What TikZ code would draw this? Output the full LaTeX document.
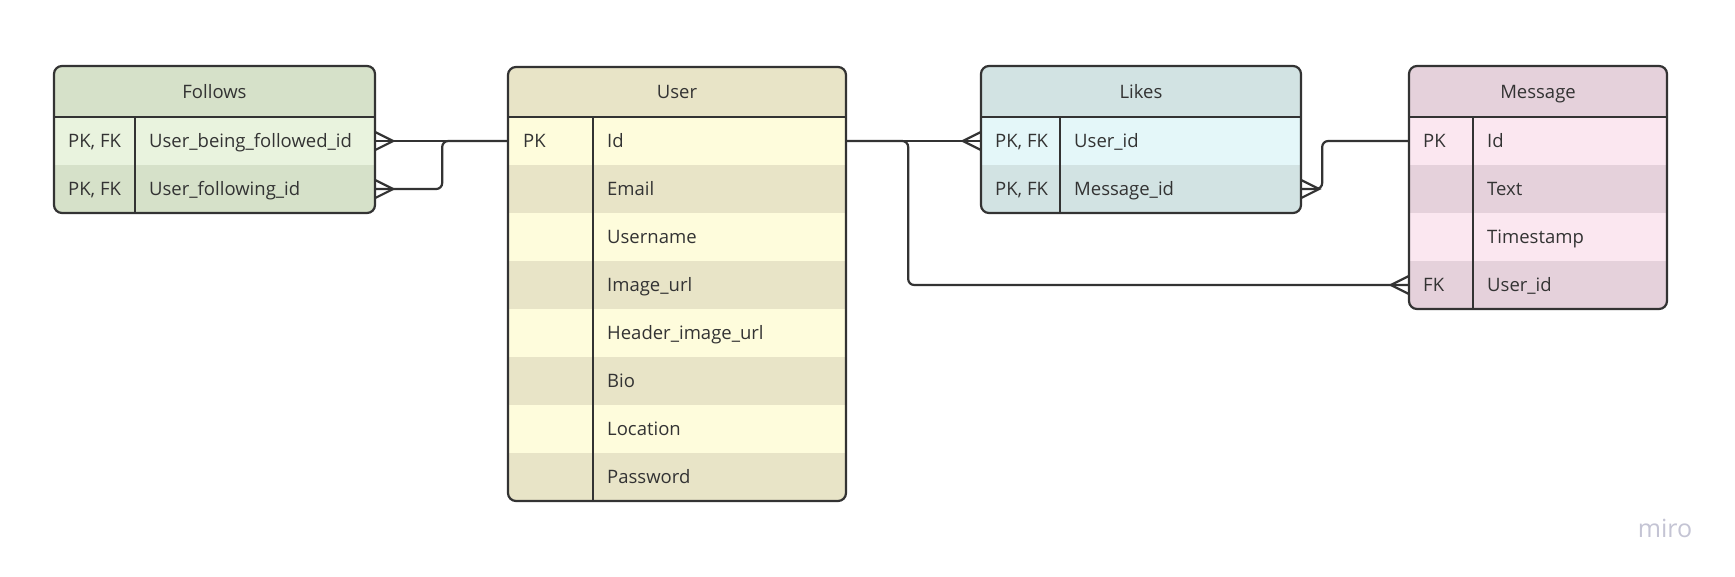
\documentclass[tikz,border=0pt]{standalone}
\usepackage{fontspec}
\setmainfont{Open Sans}
\usetikzlibrary{positioning}

\definecolor{ink}{HTML}{333333}
\definecolor{folDark}{HTML}{D6E1C9}
\definecolor{folLight}{HTML}{E9F3DE}
\definecolor{usrDark}{HTML}{E8E4C7}
\definecolor{usrLight}{HTML}{FEFCDC}
\definecolor{likDark}{HTML}{D2E3E3}
\definecolor{likLight}{HTML}{E4F7F9}
\definecolor{msgDark}{HTML}{E5D1DB}
\definecolor{msgLight}{HTML}{FBE7F0}
\definecolor{miroGrey}{HTML}{C4C4D4}

\tikzset{
  cell/.style={inner sep=0pt, minimum height=48, draw=none},
  txt/.style={inner sep=0pt, anchor=west, text=ink, text height=13pt, text depth=0pt,
    font=\fontsize{18.5}{22}\selectfont},
  title/.style={inner sep=0pt, text=ink, text height=13pt, text depth=0pt,
    font=\fontsize{18.5}{22}\selectfont},
  frame/.style={draw=ink, line width=2.2pt, rounded corners=8},
  rule/.style={draw=ink, line width=2pt},
  link/.style={draw=ink, line width=2.2pt, rounded corners=6},
  crow/.pic={\draw[ink, line width=2.2pt] (0,-9) -- (18,0) -- (0,9);}
}

\begin{document}
\begin{tikzpicture}[x=1pt,y=-1pt]
\fill[white] (0,0) rectangle (1735,576);
\useasboundingbox (0,0) rectangle (1735,576);

% Follows
\begin{scope}
  \clip[rounded corners=8] (54,66) rectangle (375,213);
  \node[cell, fill=folDark, minimum width=321, minimum height=51] (folH) at (214.5,91.5) {};
  \node[cell, fill=folLight, minimum width=321] (fol1) at (214.5,141) {};
  \node[cell, fill=folDark, minimum width=321] (fol2) at (214.5,189) {};
\end{scope}
\node[title] (folT) at (folH) {Follows};
\node[txt] (folk1) at (68,141) {PK, FK};
\node[txt] (folf1) at (149,141) {User\_being\_followed\_id};
\node[txt] (folk2) at (68,189) {PK, FK};
\node[txt] (folf2) at (149,189) {User\_following\_id};
\draw[rule] (folH.south west) -- (folH.south east);
\draw[rule] (135,117) -- (135,213);
\draw[frame] (54,66) rectangle (375,213);

% User
\begin{scope}
  \clip[rounded corners=8] (508,67) rectangle (846,501);
  \node[cell, fill=usrDark, minimum width=338, minimum height=50] (usrH) at (677,92) {};
  \foreach \n/\fld/\col in {1/Id/usrLight, 2/Email/usrDark, 3/Username/usrLight,
      4/Image\_url/usrDark, 5/Header\_image\_url/usrLight, 6/Bio/usrDark,
      7/Location/usrLight, 8/Password/usrDark} {
    \node[cell, fill=\col, minimum width=338] (usr\n) at (677,{93+48*\n}) {};
    \node[txt] (usrf\n) at (607,{93+48*\n}) {\fld};
  }
\end{scope}
\node[title] (usrT) at (usrH) {User};
\node[txt] (usrk1) at (523,141) {PK};
\draw[rule] (usrH.south west) -- (usrH.south east);
\draw[rule] (593,117) -- (593,501);
\draw[frame] (508,67) rectangle (846,501);

% Likes
\begin{scope}
  \clip[rounded corners=8] (981,66) rectangle (1301,213);
  \node[cell, fill=likDark, minimum width=320, minimum height=51] (likH) at (1141,91.5) {};
  \node[cell, fill=likLight, minimum width=320] (lik1) at (1141,141) {};
  \node[cell, fill=likDark, minimum width=320] (lik2) at (1141,189) {};
\end{scope}
\node[title] (likT) at (likH) {Likes};
\node[txt] (likk1) at (995,141) {PK, FK};
\node[txt] (likf1) at (1074,141) {User\_id};
\node[txt] (likk2) at (995,189) {PK, FK};
\node[txt] (likf2) at (1074,189) {Message\_id};
\draw[rule] (likH.south west) -- (likH.south east);
\draw[rule] (1060,117) -- (1060,213);
\draw[frame] (981,66) rectangle (1301,213);

% Message
\begin{scope}
  \clip[rounded corners=8] (1409,66) rectangle (1667,309);
  \node[cell, fill=msgDark, minimum width=258, minimum height=51] (msgH) at (1538,91.5) {};
  \foreach \n/\fld/\col in {1/Id/msgLight, 2/Text/msgDark, 3/Timestamp/msgLight,
      4/User\_id/msgDark} {
    \node[cell, fill=\col, minimum width=258] (msg\n) at (1538,{93+48*\n}) {};
    \node[txt] (msgf\n) at (1487,{93+48*\n}) {\fld};
  }
\end{scope}
\node[title] (msgT) at (msgH) {Message};
\node[txt] (msgk1) at (1423,141) {PK};
\node[txt] (msgk4) at (1423,285) {FK};
\draw[rule] (msgH.south west) -- (msgH.south east);
\draw[rule] (1473,117) -- (1473,309);
\draw[frame] (1409,66) rectangle (1667,309);

% relations
\draw[link] (fol1.east) -- (usr1.west);
\draw[link] (fol2.east) -- ++(67,0) |- (usr1.west);
\draw[link] (usr1.east) -- (lik1.west);
\draw[link] (usr1.east) -- ++(62,0) |- (msg4.west);
\draw[link] (lik2.east) -- ++(21,0) |- (msg1.west);
\pic at (fol1.east) {crow};
\pic at (fol2.east) {crow};
\pic[rotate=180] at (lik1.west) {crow};
\pic at (lik2.east) {crow};
\pic[rotate=180] at (msg4.west) {crow};

\node[text=miroGrey, inner sep=0pt, font=\fontsize{25}{27}\selectfont] (logo) at (1665,528) {miro};
\end{tikzpicture}
\end{document}
